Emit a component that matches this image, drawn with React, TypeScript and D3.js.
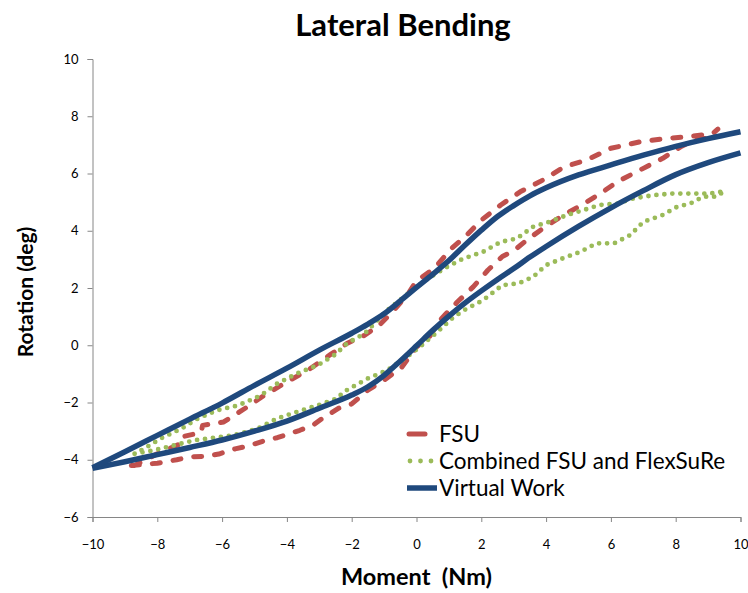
import React, { useEffect, useRef } from 'react'
import * as d3 from 'd3'

// Virtual Work model: loading (lower) and unloading (upper) branches
const vwMoment = [-10, -9, -8, -7, -6, -5, -4, -3, -2, -1.5, -1, -0.5, 0, 0.5, 1, 1.5, 2, 2.5, 3, 3.5, 4, 5, 6, 7, 8, 9, 10]
const vwUpper = [
  -4.28, -3.72, -3.15, -2.58, -2.02, -1.4, -0.8, -0.17, 0.42, 0.74, 1.1, 1.55, 2.02, 2.48, 2.96, 3.5,
  4.02, 4.5, 4.88, 5.22, 5.5, 5.95, 6.3, 6.64, 6.95, 7.22, 7.46
]
const vwLower = [
  -4.3, -4.07, -3.82, -3.57, -3.31, -3.0, -2.65, -2.2, -1.74, -1.45, -1.05, -0.55, -0.02, 0.52, 1.02,
  1.48, 1.9, 2.3, 2.68, 3.08, 3.45, 4.15, 4.8, 5.4, 5.96, 6.38, 6.72
]

// FSU test (one loop: lower branch up, then upper branch back down)
const fsuMoment = [
  -8.8, -8.0, -7.4, -7.0, -6.5, -6.1, -5.6, -5.2, -4.6, -4.3, -3.6, -3.2, -2.9, -2.4, -2.0, -1.5, -1.0,
  -0.45, 0.0, 0.4, 0.7, 1.25, 1.75, 2.2, 2.65, 3.0, 3.4, 3.9, 4.45, 5.05, 5.65, 6.2, 7.0, 7.6, 8.15,
  8.55, 8.95, 9.3,
  9.15, 8.35, 7.75, 6.9, 6.0, 5.25, 4.55, 3.9, 3.2, 2.6, 2.0, 1.5, 1.05, 0.55, 0.0, -0.25, -0.7,
  -1.15, -1.6, -2.15, -2.65, -3.35, -4.0, -4.7, -5.3, -5.95, -6.6, -6.65, -7.25, -7.3, -8.0, -8.7
]
const fsuRotation = [
  -4.2, -4.12, -4.0, -3.9, -3.88, -3.8, -3.62, -3.52, -3.3, -3.23, -2.97, -2.8, -2.55, -2.2, -2.05,
  -1.57, -1.22, -0.76, -0.06, 0.3, 0.85, 1.5, 2.04, 2.62, 3.1, 3.3, 3.67, 4.08, 4.49, 4.87, 5.28,
  5.71, 6.18, 6.53, 6.93, 7.17, 7.23, 7.55,
  7.4, 7.28, 7.23, 7.11, 6.88, 6.47, 6.23, 5.77, 5.36, 4.9, 4.37, 3.79, 3.35, 2.68, 2.25, 1.81, 1.22,
  0.7, 0.35, 0.06, -0.32, -0.87, -1.28, -1.75, -2.21, -2.68, -2.8, -3.05, -3.2, -3.45, -3.79, -4.2
]

// Combined FSU and FlexSuRe
const comMoment = [
  -8.7, -8.1, -7.5, -6.85, -6.25, -5.65, -4.9, -4.3, -3.7, -3.05, -2.45, -2.25, -1.5, -0.9, -0.3, 0.1,
  0.65, 1.15, 1.55, 2.05, 2.65, 3.15, 3.6, 4.0, 4.5, 5.05, 5.55, 6.1, 6.6, 7.0, 7.6, 8.05, 8.45, 8.85,
  9.25, 9.5,
  9.05, 8.55, 7.9, 7.3, 6.7, 6.2, 5.65, 5.15, 4.65, 4.1, 3.6, 3.1, 2.6, 2.05, 1.45, 0.95, 0.35, -0.25,
  -0.9, -1.6, -2.15, -2.5, -3.05, -3.7, -4.3, -4.8, -5.5, -6.15, -6.75, -7.25, -7.9, -8.4, -8.7
]
const comRotation = [
  -3.79, -3.67, -3.5, -3.32, -3.23, -3.15, -2.91, -2.56, -2.33, -2.1, -1.86, -1.63, -1.16, -0.87,
  -0.41, -0.06, 0.47, 0.99, 1.28, 1.57, 2.1, 2.16, 2.39, 2.8, 3.03, 3.26, 3.56, 3.56, 3.85, 4.31,
  4.55, 4.84, 4.95, 5.19, 5.19, 5.38,
  5.3, 5.3, 5.3, 5.24, 5.13, 4.95, 4.9, 4.72, 4.55, 4.31, 4.14, 3.73, 3.61, 3.26, 3.03, 2.74, 2.33,
  1.81, 1.22, 0.41, 0.06, -0.32, -0.7, -0.99, -1.34, -1.75, -2.1, -2.27, -2.56, -2.91, -3.26, -3.61,
  -3.79
]

const xTicks = [-10, -8, -6, -4, -2, 0, 2, 4, 6, 8, 10]
const yTicks = [-6, -4, -2, 0, 2, 4, 6, 8, 10]
const seriesNames = ['FSU', 'Combined FSU and FlexSuRe', 'Virtual Work']

const RED = '#C0504D'
const GREEN = '#9BBB59'
const BLUE = '#1F497D'
const FONT = 'Lato, "Open Sans", sans-serif'

const App = () => {
  const ref = useRef<SVGSVGElement>(null)

  useEffect(() => {
    const svg = d3.select(ref.current)
    svg.selectAll('*').remove()

    const x = d3.scaleLinear().domain([-10, 10]).range([92.5, 740.5])
    const y = d3.scaleLinear().domain([-6, 10]).range([517, 59])

    // axes
    const xAxis = d3.axisBottom(x).tickValues(xTicks).tickSize(5).tickSizeOuter(5).tickPadding(18)
    const gx = svg.append('g').attr('transform', `translate(0, ${y(-6)})`).call(xAxis)
    const yAxis = d3.axisLeft(y).tickValues(yTicks).tickSize(5).tickSizeOuter(5).tickPadding(9)
    const gy = svg.append('g').attr('transform', `translate(${x(-10)}, 0)`).call(yAxis)
    ;[gx, gy].forEach((g) => {
      g.selectAll('path, line').attr('stroke', '#868686').attr('stroke-width', 1)
      g.selectAll('text').attr('font-family', FONT).attr('font-size', 13).attr('fill', '#000')
    })

    const line = d3
      .line<[number, number]>()
      .x((d) => x(d[0]))
      .y((d) => y(d[1]))

    // FSU dashed
    svg
      .append('path')
      .datum(fsuMoment.map((m, i) => [m, fsuRotation[i]] as [number, number]))
      .attr('d', line.curve(d3.curveLinear))
      .attr('fill', 'none')
      .attr('stroke', RED)
      .attr('stroke-width', 5)
      .attr('stroke-linecap', 'round')
      .attr('stroke-linejoin', 'round')
      .attr('stroke-dasharray', '8 13')

    // Combined dotted
    svg
      .append('path')
      .datum(comMoment.map((m, i) => [m, comRotation[i]] as [number, number]))
      .attr('d', line.curve(d3.curveLinear))
      .attr('fill', 'none')
      .attr('stroke', GREEN)
      .attr('stroke-width', 4.8)
      .attr('stroke-linecap', 'round')
      .attr('stroke-dasharray', '0 8')

    // Virtual work solid
    ;[vwLower, vwUpper].forEach((rot) => {
      svg
        .append('path')
        .datum(vwMoment.map((m, i) => [m, rot[i]] as [number, number]))
        .attr('d', line.curve(d3.curveMonotoneX))
        .attr('fill', 'none')
        .attr('stroke', BLUE)
        .attr('stroke-width', 5.5)
    })

    // legend
    const leg = svg.append('g')
    const rowY = [434, 461, 488]
    leg.append('line').attr('x1', 409).attr('x2', 425).attr('y1', rowY[0]).attr('y2', rowY[0])
      .attr('stroke', RED).attr('stroke-width', 5).attr('stroke-linecap', 'round')
    leg.append('line').attr('x1', 410).attr('x2', 432).attr('y1', rowY[1]).attr('y2', rowY[1])
      .attr('stroke', GREEN).attr('stroke-width', 4.8).attr('stroke-linecap', 'round')
      .attr('stroke-dasharray', '0 10.5')
    leg.append('line').attr('x1', 407).attr('x2', 437).attr('y1', rowY[2]).attr('y2', rowY[2])
      .attr('stroke', BLUE).attr('stroke-width', 5.5)
    seriesNames.forEach((name, i) => {
      leg.append('text').attr('x', 439).attr('y', rowY[i]).attr('dy', '0.35em')
        .attr('font-family', FONT).attr('font-size', 22.5).text(name)
    })

    // titles
    svg.append('text').attr('x', 403).attr('y', 36).attr('text-anchor', 'middle')
      .attr('font-family', FONT).attr('font-weight', 'bold').attr('font-size', 31)
      .text('Lateral Bending')
    svg.append('text').attr('x', 416.5).attr('y', 585).attr('text-anchor', 'middle')
      .attr('font-family', FONT).attr('font-weight', 'bold').attr('font-size', 23.5)
      .attr('xml:space', 'preserve').style('white-space', 'pre')
      .text('Moment  (Nm)')
    svg.append('text').attr('transform', 'translate(33, 292) rotate(-90)').attr('text-anchor', 'middle')
      .attr('font-family', FONT).attr('font-weight', 'bold').attr('font-size', 21)
      .text('Rotation (deg)')
  }, [])

  return (
    <svg
      ref={ref}
      width={748}
      height={593}
      style={{ position: 'absolute', left: 0, top: 0, background: '#fff' }}
    />
  )
}

export default App
